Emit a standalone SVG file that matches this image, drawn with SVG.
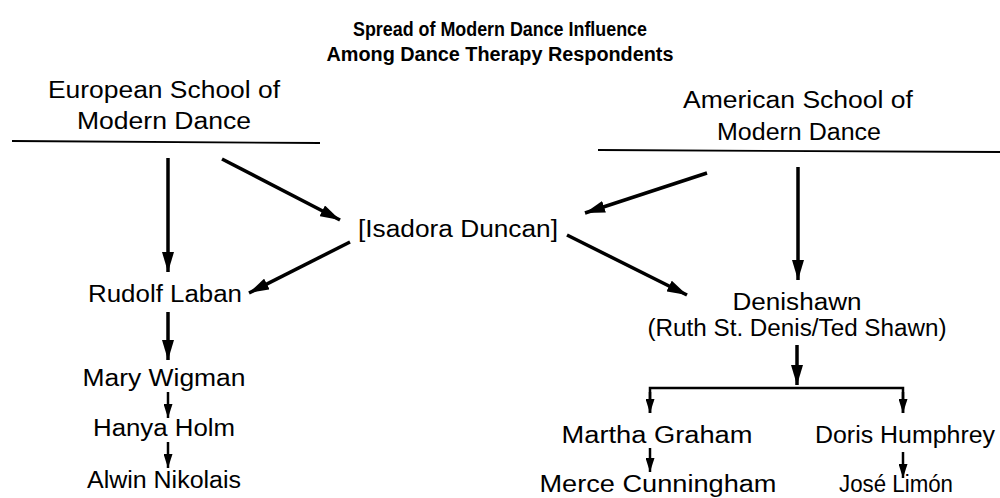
<svg xmlns="http://www.w3.org/2000/svg" width="1000" height="498" viewBox="0 0 1000 498">
<defs>
<style>
text{font-family:"Liberation Sans",Arial,sans-serif;font-size:23px;fill:#000;text-anchor:middle}
.title{font-weight:bold;font-size:20px}
.c{stroke:#000;fill:none}
.big{stroke-width:3.5}
.sm{stroke-width:2.5}
.rule{stroke-width:1.8}
</style>
<marker id="ah" markerUnits="userSpaceOnUse" viewBox="0 0 20 12" refX="20" refY="6" markerWidth="20" markerHeight="12" orient="auto">
<path d="M0,0 L20,6 L0,12 Z" fill="#000"/>
</marker>
<marker id="as" markerUnits="userSpaceOnUse" viewBox="0 0 14 9" refX="14" refY="4.5" markerWidth="14" markerHeight="9" orient="auto">
<path d="M0,0 L14,4.5 L0,9 Z" fill="#000"/>
</marker>
</defs>
<rect width="1000" height="498" fill="#fff"/>
<g id="title">
<text class="title" x="500" y="36" textLength="294" lengthAdjust="spacingAndGlyphs">Spread of Modern Dance Influence</text>
<text class="title" x="500" y="61" textLength="347" lengthAdjust="spacingAndGlyphs">Among Dance Therapy Respondents</text>
</g>
<g id="european">
<text x="164" y="98" textLength="232" lengthAdjust="spacingAndGlyphs">European School of</text>
<text x="164" y="129" textLength="174" lengthAdjust="spacingAndGlyphs">Modern Dance</text>
</g>
<g id="american">
<text x="798" y="108" textLength="230" lengthAdjust="spacingAndGlyphs">American School of</text>
<text x="799" y="140" textLength="164" lengthAdjust="spacingAndGlyphs">Modern Dance</text>
</g>
<g id="isadora"><text x="458" y="237" textLength="200" lengthAdjust="spacingAndGlyphs">[Isadora Duncan]</text></g>
<g id="laban"><text x="165" y="302" textLength="154" lengthAdjust="spacingAndGlyphs">Rudolf Laban</text></g>
<g id="wigman"><text x="164" y="386" textLength="163" lengthAdjust="spacingAndGlyphs">Mary Wigman</text></g>
<g id="holm"><text x="164" y="436" textLength="142" lengthAdjust="spacingAndGlyphs">Hanya Holm</text></g>
<g id="nikolais"><text x="164" y="488" textLength="154" lengthAdjust="spacingAndGlyphs">Alwin Nikolais</text></g>
<g id="denishawn">
<text x="797" y="310" textLength="129" lengthAdjust="spacingAndGlyphs">Denishawn</text>
<text x="797" y="336" textLength="299" lengthAdjust="spacingAndGlyphs">(Ruth St. Denis/Ted Shawn)</text>
</g>
<g id="graham"><text x="657" y="443" textLength="191" lengthAdjust="spacingAndGlyphs">Martha Graham</text></g>
<g id="humphrey"><text x="905" y="443" textLength="180" lengthAdjust="spacingAndGlyphs">Doris Humphrey</text></g>
<g id="cunningham"><text x="658" y="492" textLength="237" lengthAdjust="spacingAndGlyphs">Merce Cunningham</text></g>
<g id="limon"><text x="896" y="492" textLength="114" lengthAdjust="spacingAndGlyphs">José Limón</text></g>
<g id="connectors">
<line class="c rule" x1="12" y1="141" x2="320" y2="143"/>
<line class="c rule" x1="598" y1="150" x2="1000" y2="152"/>
<line class="c big" x1="168" y1="158" x2="168" y2="272" marker-end="url(#ah)"/>
<line class="c big" x1="222" y1="159" x2="340" y2="220" marker-end="url(#ah)"/>
<line class="c big" x1="707" y1="173" x2="585" y2="213" marker-end="url(#ah)"/>
<line class="c big" x1="798" y1="167" x2="798" y2="280" marker-end="url(#ah)"/>
<line class="c big" x1="350" y1="242" x2="249" y2="293" marker-end="url(#ah)"/>
<line class="c big" x1="567" y1="235" x2="687" y2="295" marker-end="url(#ah)"/>
<line class="c big" x1="168" y1="312" x2="168" y2="360" marker-end="url(#ah)"/>
<line class="c sm" x1="168" y1="392" x2="168" y2="418" marker-end="url(#as)"/>
<line class="c sm" x1="168" y1="442" x2="168" y2="468" marker-end="url(#as)"/>
<line class="c big" x1="797" y1="345" x2="797" y2="385" marker-end="url(#ah)"/>
<polyline class="c sm" points="650,413 650,388 903,388 903,413"/>
<line class="c sm" x1="650" y1="392" x2="650" y2="413" marker-end="url(#as)"/>
<line class="c sm" x1="903" y1="392" x2="903" y2="413" marker-end="url(#as)"/>
<line class="c sm" x1="650" y1="448" x2="650" y2="472" marker-end="url(#as)"/>
<line class="c sm" x1="903" y1="452" x2="903" y2="478" marker-end="url(#as)"/>
</g>
</svg>
